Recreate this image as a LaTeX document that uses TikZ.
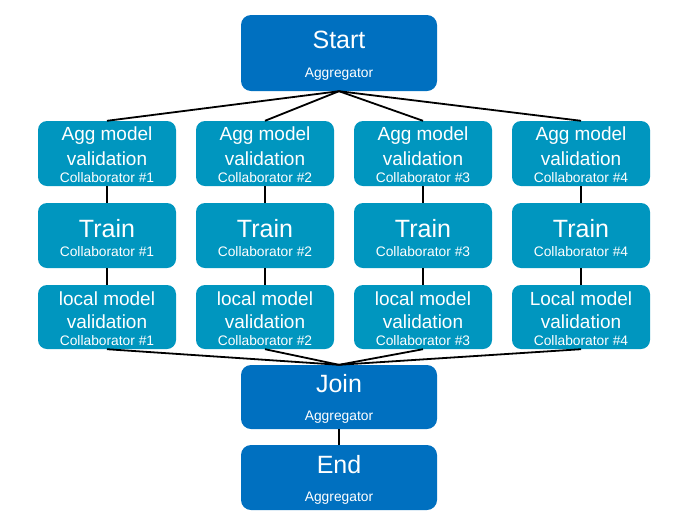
\documentclass[tikz,border=0pt]{standalone}
\usepackage{fontspec}
\setmainfont{Liberation Sans}
\definecolor{aggblue}{HTML}{0070C0}
\definecolor{colblue}{HTML}{0096BF}
\begin{document}
\begin{tikzpicture}[x=1pt,y=-1pt,
  aggbox/.style={fill=aggblue, rounded corners=10pt, minimum width=196pt, minimum height=76pt, inner sep=0pt, draw=none},
  colbox/.style={fill=colblue, rounded corners=9pt, minimum width=138pt, minimum height=65pt, inner sep=0pt, draw=none},
  big/.style={text=white, font=\fontsize{25}{28}\selectfont, inner sep=0pt},
  mid/.style={text=white, font=\fontsize{19}{22}\selectfont, inner sep=0pt},
  small/.style={text=white, font=\fontsize{13.8}{16}\selectfont, inner sep=0pt},
  conn/.style={draw=black, line width=1.8pt}]
\useasboundingbox (0,0) rectangle (684,520);
\node[aggbox, minimum height=76pt] (start) at (339,53) {};
\node[aggbox, minimum height=64pt] (join) at (339,397) {};
\node[aggbox, minimum height=65pt] (end) at (339,477.5) {};
\foreach \i/\cx in {1/107,2/265,3/423,4/581} {
  \node[colbox] (a\i) at (\cx,153.5) {};
  \node[colbox] (t\i) at (\cx,235.5) {};
  \node[colbox, minimum height=64pt] (l\i) at (\cx,317) {};
}
\foreach \i in {1,2,3,4} {
  \draw[conn] (start.south) -- (a\i.north);
  \draw[conn] (a\i.south) -- (t\i.north);
  \draw[conn] (t\i.south) -- (l\i.north);
  \draw[conn] (l\i.south) -- (join.north);
}
\draw[conn] (join.south) -- (end.north);
% texts
\node[big] (startt) at (339,40) {Start};
\node[small] (starts) at (339,74) {Aggregator};
\node[big] (joint) at (339,383.5) {Join};
\node[small] (joins) at (339,417) {Aggregator};
\node[big] (endt) at (339,464.5) {End};
\node[small] (ends) at (339,498) {Aggregator};
\foreach \i/\cx/\lm in {1/107/local,2/265/local,3/423/local,4/581/Local} {
  \node[mid] (a1t\i) at (\cx,135.5) {Agg model};
  \node[mid] (a2t\i) at (\cx,158.5) {validation};
  \node[small] (a3t\i) at (\cx,177.5) {Collaborator \#\i};
  \node[big] (t1t\i) at (\cx,229) {Train};
  \node[small] (t2t\i) at (\cx,251.5) {Collaborator \#\i};
  \node[mid] (l1t\i) at (\cx,298.5) {\lm\ model};
  \node[mid] (l2t\i) at (\cx,321.5) {validation};
  \node[small] (l3t\i) at (\cx,340.5) {Collaborator \#\i};
}
\end{tikzpicture}
\end{document}
